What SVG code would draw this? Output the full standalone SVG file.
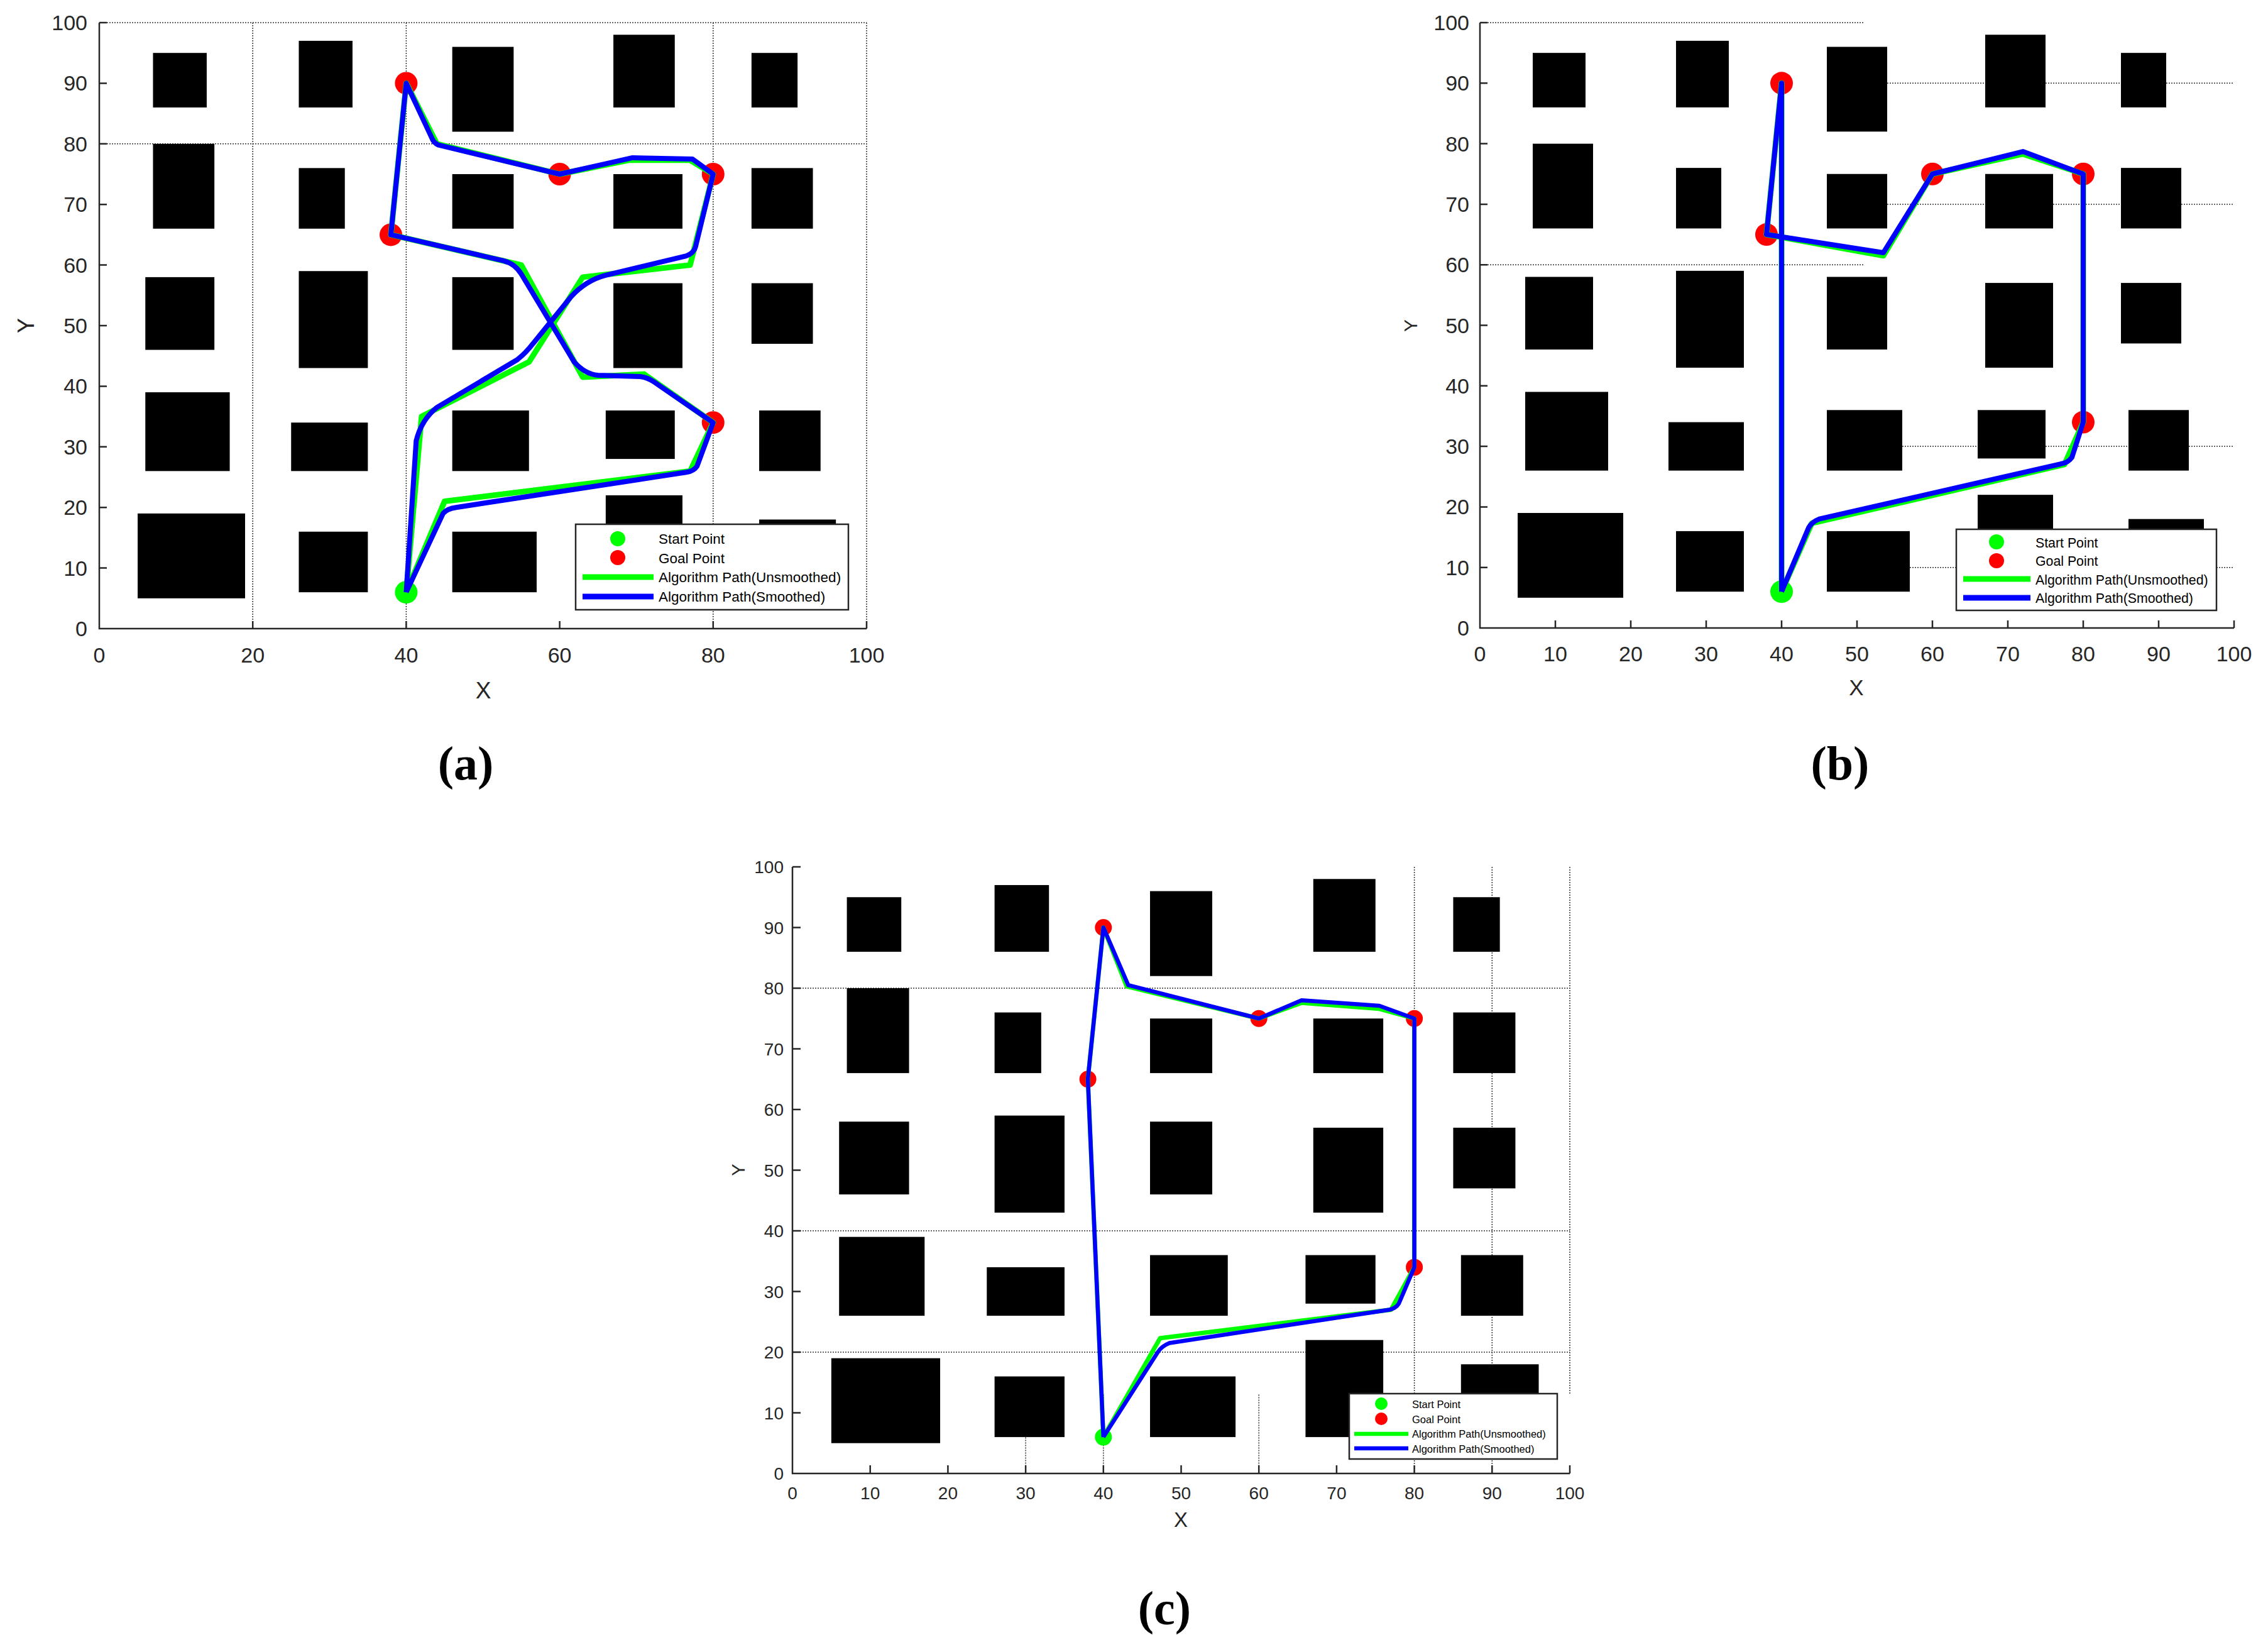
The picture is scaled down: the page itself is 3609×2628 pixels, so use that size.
<svg xmlns="http://www.w3.org/2000/svg" xmlns:xlink="http://www.w3.org/1999/xlink" width="3609" height="2628" viewBox="0 0 3609 2628">
<style>
.ax{fill:none;stroke:#262626;stroke-width:2.5}
.grid{fill:none;stroke:#333;stroke-width:1.5;stroke-dasharray:2 2}
.tk{font-family:"Liberation Sans",Arial,sans-serif;fill:#262626}
.ta{font-size:34px}
.tc{font-size:28px}
.lbl{font-family:"Liberation Sans",Arial,sans-serif;fill:#262626}
.cap{font-family:"Liberation Serif","Times New Roman",serif;font-weight:bold;font-size:76px;fill:#000;text-anchor:middle}
.pg{fill:none;stroke:#00ff00;stroke-linejoin:round;vector-effect:non-scaling-stroke}
.pb{fill:none;stroke:#0000ff;stroke-linejoin:round;vector-effect:non-scaling-stroke}
.leg{fill:#fff;stroke:#262626;stroke-width:2.5}
.lt{font-family:"Liberation Sans",Arial,sans-serif;fill:#000}
.gr{fill:#00ff00}
.rd{fill:#ff0000}
</style>
<defs>
<g id="obstacles" fill="#000">
<rect x="7" y="86" width="7" height="9"/>
<rect x="26" y="86" width="7" height="11"/>
<rect x="46" y="82" width="8" height="14"/>
<rect x="67" y="86" width="8" height="12"/>
<rect x="85" y="86" width="6" height="9"/>
<rect x="7" y="66" width="8" height="14"/>
<rect x="26" y="66" width="6" height="10"/>
<rect x="46" y="66" width="8" height="9"/>
<rect x="67" y="66" width="9" height="9"/>
<rect x="85" y="66" width="8" height="10"/>
<rect x="6" y="46" width="9" height="12"/>
<rect x="26" y="43" width="9" height="16"/>
<rect x="46" y="46" width="8" height="12"/>
<rect x="67" y="43" width="9" height="14"/>
<rect x="85" y="47" width="8" height="10"/>
<rect x="6" y="26" width="11" height="13"/>
<rect x="25" y="26" width="10" height="8"/>
<rect x="46" y="26" width="10" height="10"/>
<rect x="66" y="28" width="9" height="8"/>
<rect x="86" y="26" width="8" height="10"/>
<rect x="5" y="5" width="14" height="14"/>
<rect x="26" y="6" width="9" height="10"/>
<rect x="46" y="6" width="11" height="10"/>
<rect x="66" y="6" width="10" height="16"/>
<rect x="86" y="8" width="10" height="10"/>
</g>
</defs>
<rect width="3609" height="2628" fill="#fff"/>

<!-- ============ (a) ============ -->
<g id="plot-a">
<g id="grid-a" class="grid">
<path d="M402.2,36V1000M646.4,36V1000M1134.8,36V1000M1379,36V1000M158,228.8H1379M158,36H1379"/>
</g>
<use xlink:href="#obstacles" href="#obstacles" transform="matrix(12.21 0 0 -9.64 158 1000)"/>
<g id="axes-a">
<path class="ax" d="M158,36V1000H1379"/>
<path class="ax" d="M402.2,1000v-12M646.4,1000v-12M890.6,1000v-12M1134.8,1000v-12M1379,1000v-12M158,903.6h12M158,807.2h12M158,710.8h12M158,614.4h12M158,518h12M158,421.6h12M158,325.2h12M158,228.8h12M158,132.4h12M158,36h12"/>
<g class="tk ta" text-anchor="middle">
<text x="158" y="1054">0</text><text x="402.2" y="1054">20</text><text x="646.4" y="1054">40</text><text x="890.6" y="1054">60</text><text x="1134.8" y="1054">80</text><text x="1379" y="1054">100</text>
</g>
<g class="tk ta" text-anchor="end">
<text x="139" y="1012">0</text><text x="139" y="915.6">10</text><text x="139" y="819.2">20</text><text x="139" y="722.8">30</text><text x="139" y="626.4">40</text><text x="139" y="530">50</text><text x="139" y="433.6">60</text><text x="139" y="337.2">70</text><text x="139" y="240.8">80</text><text x="139" y="144.4">90</text><text x="139" y="48">100</text>
</g>
<text class="lbl" x="769" y="1111" font-size="37" text-anchor="middle">X</text>
<text class="lbl" x="54" y="518" font-size="36" text-anchor="middle" transform="rotate(-90 54 518)">Y</text>
</g>
<g id="markers-a">
<circle class="gr" cx="646.4" cy="942.2" r="18"/>
<circle class="rd" cx="646.4" cy="132.4" r="18"/>
<circle class="rd" cx="890.6" cy="277" r="18"/>
<circle class="rd" cx="1134.8" cy="277" r="18"/>
<circle class="rd" cx="622" cy="373.4" r="18"/>
<circle class="rd" cx="1134.8" cy="672.2" r="18"/>
</g>
<g id="paths-a" transform="matrix(12.21 0 0 -9.64 158 1000)">
<path class="pg" stroke-width="9" d="M40,6 L42,35 L56,44 L63,58 L77,60 L80,75 L77,77.3 L69,77.3 L60,75 L44,80 L40,90 L38,65 L55,60 L63,41.5 L71,42 L80,34 L77,26 L45,21 Z"/>
<path class="pb" stroke-width="8" d="M40,6 L41.3,31 Q42,34.5 44,36.5 L54.5,44.4 Q55.6,45.5 56.5,47 L61.5,54.8 Q63.5,57.5 66,58.3 L76.5,61.5 Q77.5,62 77.7,63 L80,75 L77.3,77.5 L69.5,77.7 L60,75 L44.2,79.8 Q43.6,80.2 43.4,80.8 L40,90 L38,65 L52.7,60.7 Q54.2,60.2 55,58.5 L61.9,44 Q63.3,42 65,41.8 L70.5,41.6 Q71.5,41.4 72.2,40.8 L80,34 L77.9,26.8 Q77.5,26 76.5,25.8 L46.5,20 Q45.3,19.8 44.8,19 L40,6"/>
</g>
<g id="legend-a">
<rect class="leg" x="916" y="834" width="434" height="136"/>
<circle class="gr" cx="983" cy="857" r="12"/>
<circle class="rd" cx="983" cy="887" r="12"/>
<line x1="927" y1="918" x2="1040" y2="918" stroke="#00ff00" stroke-width="9"/>
<line x1="927" y1="949" x2="1040" y2="949" stroke="#0000ff" stroke-width="9"/>
<g class="lt" font-size="22.5">
<text x="1048" y="865">Start Point</text>
<text x="1048" y="896">Goal Point</text>
<text x="1048" y="926">Algorithm Path(Unsmoothed)</text>
<text x="1048" y="957">Algorithm Path(Smoothed)</text>
</g>
</g>
<text class="cap" x="741" y="1240">(a)</text>
</g>

<!-- ============ (b) ============ -->
<g id="plot-b">
<g id="grid-b" class="grid">
<path d="M2355,36H2967M2967,132.3H3555M2967,324.9H3555M2355,421.2H2967M2967,710.1H3555M2967,902.7H3555"/>
</g>
<use xlink:href="#obstacles" href="#obstacles" transform="matrix(12 0 0 -9.63 2355 999)"/>
<g id="axes-b">
<path class="ax" d="M2355,36V999H3555"/>
<path class="ax" d="M2475,999v-12M2595,999v-12M2715,999v-12M2835,999v-12M2955,999v-12M3075,999v-12M3195,999v-12M3315,999v-12M3435,999v-12M3555,999v-12M2355,902.7h12M2355,806.4h12M2355,710.1h12M2355,613.8h12M2355,517.5h12M2355,421.2h12M2355,324.9h12M2355,228.6h12M2355,132.3h12M2355,36h12"/>
<g class="tk ta" text-anchor="middle">
<text x="2355" y="1052">0</text><text x="2475" y="1052">10</text><text x="2595" y="1052">20</text><text x="2715" y="1052">30</text><text x="2835" y="1052">40</text><text x="2955" y="1052">50</text><text x="3075" y="1052">60</text><text x="3195" y="1052">70</text><text x="3315" y="1052">80</text><text x="3435" y="1052">90</text><text x="3555" y="1052">100</text>
</g>
<g class="tk ta" text-anchor="end">
<text x="2338" y="1011">0</text><text x="2338" y="914.7">10</text><text x="2338" y="818.4">20</text><text x="2338" y="722.1">30</text><text x="2338" y="625.8">40</text><text x="2338" y="529.5">50</text><text x="2338" y="433.2">60</text><text x="2338" y="336.9">70</text><text x="2338" y="240.6">80</text><text x="2338" y="144.3">90</text><text x="2338" y="48">100</text>
</g>
<text class="lbl" x="2954" y="1106" font-size="35" text-anchor="middle">X</text>
<text class="lbl" x="2255" y="518" font-size="30" text-anchor="middle" transform="rotate(-90 2255 518)">Y</text>
</g>
<g id="markers-b">
<circle class="gr" cx="2835" cy="941.2" r="18"/>
<circle class="rd" cx="2835" cy="132.3" r="18"/>
<circle class="rd" cx="3075" cy="276.75" r="18"/>
<circle class="rd" cx="3315" cy="276.75" r="18"/>
<circle class="rd" cx="2811" cy="373.05" r="18"/>
<circle class="rd" cx="3315" cy="671.6" r="18"/>
</g>
<g id="paths-b" transform="matrix(12 0 0 -9.63 2355 999)">
<path class="pg" stroke-width="9" d="M40,6 L40,90 L38,65 L53.5,61.5 L60,75 L72,78.3 L80,75 L80,34 L77.5,27 L44,17.3 Z"/>
<path class="pb" stroke-width="8" d="M40,6 L40,90 L38,65 L53.5,62 L60,75 L72,78.7 L80,75 L80,34 L78.5,28.2 Q78,27.3 77,27.1 L45,18 Q44,17.5 43.6,16.6 L40,6"/>
</g>
<g id="legend-b">
<rect class="leg" x="3113" y="842" width="414" height="129"/>
<circle class="gr" cx="3177" cy="862" r="12"/>
<circle class="rd" cx="3177" cy="892" r="12"/>
<line x1="3124" y1="921" x2="3231" y2="921" stroke="#00ff00" stroke-width="9"/>
<line x1="3124" y1="951" x2="3231" y2="951" stroke="#0000ff" stroke-width="9"/>
<g class="lt" font-size="21.3">
<text x="3239" y="871">Start Point</text>
<text x="3239" y="900">Goal Point</text>
<text x="3239" y="930">Algorithm Path(Unsmoothed)</text>
<text x="3239" y="959">Algorithm Path(Smoothed)</text>
</g>
</g>
<text class="cap" x="2928" y="1240">(b)</text>
</g>

<!-- ============ (c) ============ -->
<g id="plot-c">
<g id="grid-c" class="grid">
<path d="M1261,1572H2498M1261,1958H2498M1261,2151H2498M2250.6,1379V2344M2374.3,1379V2344M2498,1379V2218.5M1632.1,2218.5V2344M1755.8,2218.5V2344M2003.2,2218.5V2344"/>
</g>
<use xlink:href="#obstacles" href="#obstacles" transform="matrix(12.37 0 0 -9.65 1261 2344)"/>
<g id="axes-c">
<path class="ax" d="M1261,1379V2344H2498"/>
<path class="ax" d="M1384.7,2344v-13M1508.4,2344v-13M1632.1,2344v-13M1755.8,2344v-13M1879.5,2344v-13M2003.2,2344v-13M2126.9,2344v-13M2250.6,2344v-13M2374.3,2344v-13M2498,2344v-13M1261,2247.5h13M1261,2151h13M1261,2054.5h13M1261,1958h13M1261,1861.5h13M1261,1765h13M1261,1668.5h13M1261,1572h13M1261,1475.5h13M1261,1379h13"/>
<g class="tk tc" text-anchor="middle">
<text x="1261" y="2385">0</text><text x="1384.7" y="2385">10</text><text x="1508.4" y="2385">20</text><text x="1632.1" y="2385">30</text><text x="1755.8" y="2385">40</text><text x="1879.5" y="2385">50</text><text x="2003.2" y="2385">60</text><text x="2126.9" y="2385">70</text><text x="2250.6" y="2385">80</text><text x="2374.3" y="2385">90</text><text x="2498" y="2385">100</text>
</g>
<g class="tk tc" text-anchor="end">
<text x="1247" y="2354">0</text><text x="1247" y="2257.5">10</text><text x="1247" y="2161">20</text><text x="1247" y="2064.5">30</text><text x="1247" y="1968">40</text><text x="1247" y="1871.5">50</text><text x="1247" y="1775">60</text><text x="1247" y="1678.5">70</text><text x="1247" y="1582">80</text><text x="1247" y="1485.5">90</text><text x="1247" y="1389">100</text>
</g>
<text class="lbl" x="1879" y="2429" font-size="33" text-anchor="middle">X</text>
<text class="lbl" x="1185" y="1861" font-size="29" text-anchor="middle" transform="rotate(-90 1185 1861)">Y</text>
</g>
<g id="markers-c">
<circle class="gr" cx="1755.8" cy="2286.1" r="13.5"/>
<circle class="rd" cx="1755.8" cy="1475.5" r="13.5"/>
<circle class="rd" cx="2003.2" cy="1620.25" r="13.5"/>
<circle class="rd" cx="2250.6" cy="1620.25" r="13.5"/>
<circle class="rd" cx="1731.1" cy="1716.75" r="13.5"/>
<circle class="rd" cx="2250.6" cy="2015.9" r="13.5"/>
</g>
<g id="paths-c" transform="matrix(12.37 0 0 -9.65 1261 2344)">
<path class="pg" stroke-width="7" d="M40,6 L38,65 L40,90 L43,80.3 L60,75 L65.5,77.6 L75.5,76.6 L80,75 L80,34 L77,27 L47.3,22.3 Z"/>
<path class="pb" stroke-width="6.5" d="M40,6 L38,65 L40,90 L43.2,80.5 L60,75 L65.5,78 L75.5,77.1 L80,75 L80,34 L78,28 Q77.6,27.2 76.8,27 L48.5,21.5 Q47.5,21 47,20 L40,6"/>
</g>
<g id="legend-c">
<rect class="leg" x="2147" y="2217" width="331" height="104" stroke-width="2"/>
<circle class="gr" cx="2198" cy="2233" r="10"/>
<circle class="rd" cx="2198" cy="2257" r="10"/>
<line x1="2155" y1="2281" x2="2241" y2="2281" stroke="#00ff00" stroke-width="6.5"/>
<line x1="2155" y1="2304" x2="2241" y2="2304" stroke="#0000ff" stroke-width="6.5"/>
<g class="lt" font-size="16.5">
<text x="2247" y="2240">Start Point</text>
<text x="2247" y="2264">Goal Point</text>
<text x="2247" y="2287">Algorithm Path(Unsmoothed)</text>
<text x="2247" y="2311">Algorithm Path(Smoothed)</text>
</g>
</g>
<text class="cap" x="1853" y="2584">(c)</text>
</g>
</svg>
